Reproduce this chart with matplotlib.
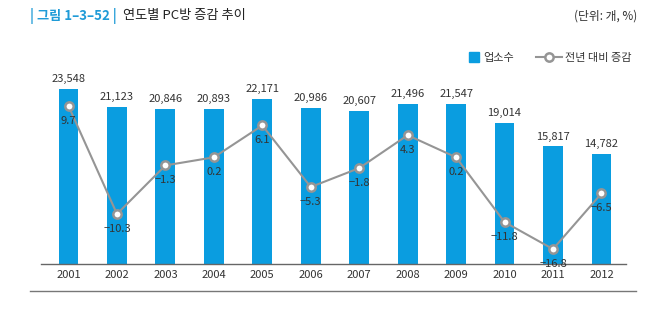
import matplotlib
matplotlib.use("Agg")
import matplotlib.pyplot as plt
from matplotlib.lines import Line2D

plt.rcParams['font.family'] = ['Noto Sans CJK KR', 'DejaVu Sans']

years = ["2001", "2002", "2003", "2004", "2005", "2006",
         "2007", "2008", "2009", "2010", "2011", "2012"]
shops = [23548, 21123, 20846, 20893, 22171, 20986,
         20607, 21496, 21547, 19014, 15817, 14782]
change = [9.7, -10.3, -1.3, 0.2, 6.1, -5.3,
          -1.8, 4.3, 0.2, -11.8, -16.8, -6.5]

bar_color = "#0a9de0"
line_color = "#959595"
text_color = "#333333"

fig = plt.figure(figsize=(6.7, 3.21), dpi=100)
W, H = 670, 321
ax = fig.add_axes([41 / W, (H - 264) / H, 585 / W, 194 / H])

x = list(range(len(years)))
bars = ax.bar(x, shops, width=0.41, color=bar_color, zorder=2)
ax.set_xlim(-0.568, 11.507)
ax.set_ylim(0, 26105)
for b, v in zip(bars, shops):
    ax.annotate(f"{v:,}", (b.get_x() + b.get_width() / 2, v),
                xytext=(0, 3.5), textcoords="offset points",
                ha="center", va="bottom", fontsize=8, color=text_color)

for s in ["top", "left", "right"]:
    ax.spines[s].set_visible(False)
ax.spines["bottom"].set_color("#666666")
ax.spines["bottom"].set_linewidth(1)
ax.set_yticks([])
ax.set_xticks(x)
ax.set_xticklabels(years, fontsize=8, color=text_color)
ax.tick_params(axis="x", length=0, pad=4)

ax2 = ax.twinx()
ax2.set_ylim(-19.56, 16.37)
ax2.axis("off")
ax2.plot(x, change, color=line_color, lw=1.5, marker="o", markersize=6,
         markerfacecolor="white", markeredgecolor=line_color,
         markeredgewidth=1.8, zorder=3)
for xi, v in zip(x, change):
    lab = f"{v:.1f}".replace("-", "\u2212")
    ax2.annotate(lab, (xi, v), xytext=(0, -7), textcoords="offset points",
                 ha="center", va="top", fontsize=8, color=text_color)

# title and unit
fig.text(30 / W, 1 - 16 / H, "| 그림 1–3–52 |", fontsize=9.5, color="#1f9bd7",
         ha="left", va="center", fontweight="semibold")
fig.text(123 / W, 1 - 16 / H, "연도별 PC방 증감 추이", fontsize=9.5,
         color="#222222", ha="left", va="center")
fig.text(637 / W, 1 - 16 / H, "(단위: 개, %)", fontsize=8.5,
         color=text_color, ha="right", va="center")

# legend
bar_handle = Line2D([], [], ls="none", marker="s", markersize=7, color=bar_color)
line_handle = Line2D([], [], color=line_color, lw=1.5, marker="o", markersize=6,
                     markerfacecolor="white", markeredgecolor=line_color,
                     markeredgewidth=1.8)
fig.legend([bar_handle], ["업소수"], loc="center left",
           bbox_to_anchor=(470 / W, 1 - 58 / H), frameon=False,
           fontsize=8, handlelength=0.8, handletextpad=0.4,
           labelcolor=text_color, borderpad=0, borderaxespad=0)
fig.legend([line_handle], ["전년 대비 증감"], loc="center left",
           bbox_to_anchor=(536 / W, 1 - 58 / H), frameon=False,
           fontsize=8, handlelength=2.3, handletextpad=0.3,
           labelcolor=text_color, borderpad=0, borderaxespad=0)

# bottom rule
fig.add_artist(Line2D([30 / W, 636 / W], [1 - 291 / H, 1 - 291 / H],
                      color="#777777", lw=1))

fig.savefig("out.png", dpi=100, facecolor="white")
